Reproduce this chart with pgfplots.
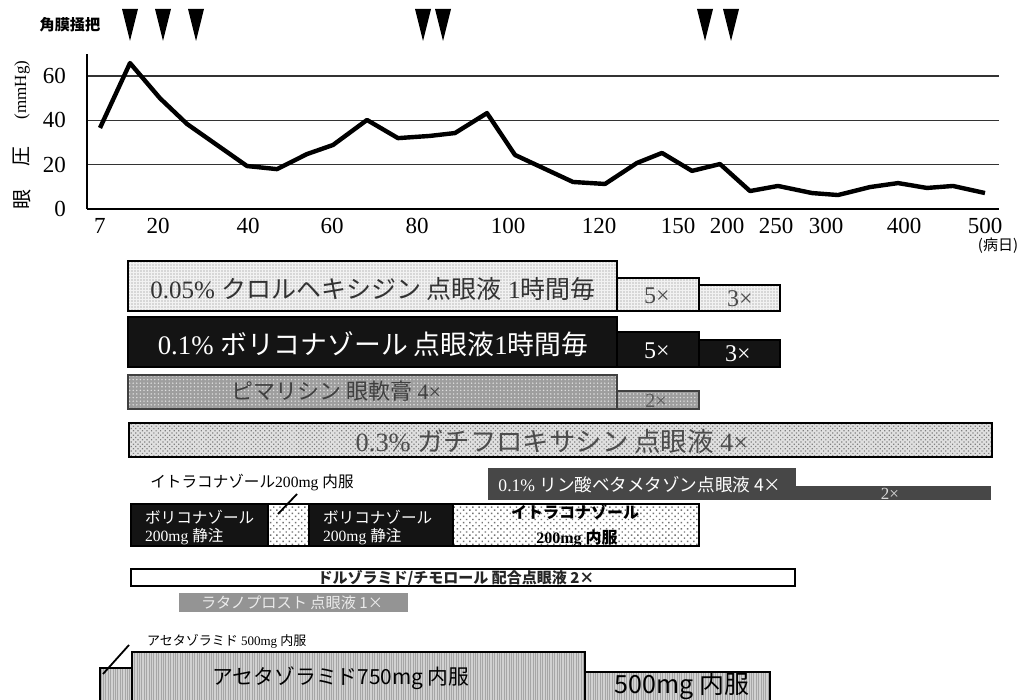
\documentclass[border=0pt]{standalone}
\usepackage{pgfplots}
\pgfplotsset{compat=1.18}
\usepackage{fontspec}
\setmainfont{Liberation Serif}
\newfontfamily\jp{Noto Sans CJK JP}
\usetikzlibrary{patterns,patterns.meta}
\newcommand{\fs}[1]{\fontsize{#1}{#1}\selectfont}
\newcommand{\bx}[5][]{\addplot[#1] coordinates {(#2,#3) (#4,#3) (#4,#5) (#2,#5)} -- cycle;}
\tikzset{
 r1/.style={draw=black, line width=0.9pt, fill=black!5, postaction={pattern={Dots[distance=1.5pt,radius=0.32pt]}, pattern color=black!50}},
 r2/.style={draw=black, line width=0.6pt, fill=black!92},
 r3/.style={draw=black!75, line width=0.7pt, fill=black!38, postaction={pattern={Dots[distance=1.8pt,radius=0.4pt]}, pattern color=black!12}},
 r4/.style={draw=black, line width=1.1pt, fill=black!12, postaction={pattern={Dots[angle=45,distance=1.6pt,radius=0.42pt]}, pattern color=black!50}},
 r5/.style={draw=none, fill=black!72},
 r6/.style={draw=black, line width=0.8pt, fill=white, postaction={pattern={Dots[angle=45,distance=2.2pt,radius=0.5pt]}, pattern color=black!55}},
 r7/.style={draw=black, line width=1.2pt, fill=white},
 r8/.style={draw=none, fill=black!42},
 r9/.style={draw=black, line width=0.8pt, fill=black!18, postaction={pattern={Lines[angle=90,distance=1.2pt,line width=0.3pt]}, pattern color=black!35}},
}
\begin{document}
\begin{tikzpicture}
\path (0,0) rectangle (515pt,350pt);
% ---------- overlay axis in pixel units (bars, markers, labels) ----------
\begin{axis}[at={(0pt,0pt)}, anchor=south west, scale only axis,
  width=515pt, height=350pt, xmin=0, xmax=1030, ymin=0, ymax=700,
  y dir=reverse, hide axis]
% keratectomy markers
\addplot[fill=black, draw=none] coordinates {(122,9) (138,9) (130,41)} -- cycle;
\addplot[fill=black, draw=none] coordinates {(155,9) (171,9) (163,41)} -- cycle;
\addplot[fill=black, draw=none] coordinates {(188,9) (204,9) (196,41)} -- cycle;
\addplot[fill=black, draw=none] coordinates {(415,9) (431,9) (423,41)} -- cycle;
\addplot[fill=black, draw=none] coordinates {(435,9) (451,9) (443,41)} -- cycle;
\addplot[fill=black, draw=none] coordinates {(697,9) (713,9) (705,41)} -- cycle;
\addplot[fill=black, draw=none] coordinates {(723,9) (739,9) (731,41)} -- cycle;
\node[font=\jp\bfseries\fs{7.6}] at (axis cs:70,25) {角膜掻把};
% y label
\node[rotate=90, font=\jp\fs{10}] at (axis cs:22,200) {眼};
\node[rotate=90, font=\jp\fs{10}] at (axis cs:22,157) {圧};
\node[rotate=90, font=\fs{8.5}] at (axis cs:22,90) {(mmHg)};
\node[font=\jp\fs{7.5}] at (axis cs:998,246) {(病日)};
% row 1: chlorhexidine
\bx[r1]{128}{261}{617}{311}
\bx[r1]{617}{278}{699}{311}
\bx[r1]{699}{285}{780}{311}
\node[font=\fs{12.5}, text=black!80] at (axis cs:373,289) {0.05\% {\jp クロルヘキシジン 点眼液} 1{\jp 時間毎}};
\node[font=\fs{12}, text=black!70] at (axis cs:657,296) {5×};
\node[font=\fs{12}, text=black!70] at (axis cs:740,299) {3×};
% row 2: voriconazole eye drops
\bx[r2]{128}{317}{617}{367}
\bx[r2]{617}{332}{699}{367}
\bx[r2]{699}{340}{780}{367}
\node[font=\fs{13.4}, text=white] at (axis cs:373,344) {0.1\% {\jp ボリコナゾール 点眼液}1{\jp 時間毎}};
\node[font=\fs{12}, text=white] at (axis cs:657,351) {5×};
\node[font=\fs{12}, text=white] at (axis cs:738,354) {3×};
% row 3: pimaricin
\bx[r3]{128}{375}{617}{409}
\bx[r3]{617}{391}{699}{409}
\node[font=\fs{11}, text=black!75] at (axis cs:336,391) {{\jp ピマリシン 眼軟膏} 4×};
\node[font=\fs{10}, text=black!65] at (axis cs:656,401) {2×};
% row 4: gatifloxacin
\bx[r4]{129}{423}{992}{457}
\node[font=\fs{13.2}, text=black!70] at (axis cs:552,441) {0.3\% {\jp ガチフロキサシン 点眼液} 4×};
% row 5: betamethasone
\bx[r5]{488}{468}{796}{500}
\bx[r5]{796}{486}{991}{500}
\node[font=\fs{8.8}, text=white] at (axis cs:640,485) {0.1\% {\jp リン酸ベタメタゾン点眼液 4×}};
\node[font=\fs{8.5}, text=black!15] at (axis cs:890,494) {2×};
% row 6: systemic antifungals
\node[font=\fs{7.8}] at (axis cs:252,483) {{\jp イトラコナゾール}200mg {\jp 内服}};
\bx[r2]{131}{504}{268}{546}
\bx[r6]{268}{504}{309}{546}
\bx[r2]{309}{504}{453}{546}
\bx[r6]{453}{504}{699}{546}
\addplot[black, line width=0.9pt] coordinates {(297,494) (278,514)};
\node[font=\fs{7.8}, text=white, anchor=west] at (axis cs:138,517) {\jp ボリコナゾール};
\node[font=\fs{7.8}, text=white, anchor=west] at (axis cs:138,537) {200mg {\jp 静注}};
\node[font=\fs{7.8}, text=white, anchor=west] at (axis cs:316,517) {\jp ボリコナゾール};
\node[font=\fs{7.8}, text=white, anchor=west] at (axis cs:316,537) {200mg {\jp 静注}};
\node[font=\jp\bfseries\fs{8}, text=black] at (axis cs:575,512) {イトラコナゾール};
\node[font=\bfseries\fs{8}, text=black] at (axis cs:577,538) {200mg {\jp 内服}};
% row 7: dorzolamide/timolol
\bx[r7]{131}{569}{795}{586}
\node[font=\jp\bfseries\fs{7.5}, text=black!85] at (axis cs:456,578) {ドルゾラミド/チモロール 配合点眼液 2×};
% row 8: latanoprost
\bx[r8]{179}{593}{408}{612}
\node[font=\jp\fs{7.6}, text=black!8] at (axis cs:292,603) {ラタノプロスト 点眼液 1×};
% row 9: acetazolamide
\node[font=\fs{6.5}, anchor=west] at (axis cs:140,641) {{\jp アセタゾラミド} 500mg {\jp 内服}};
\bx[r9]{100}{668}{132}{705}
\bx[r9]{132}{652}{585}{705}
\bx[r9]{585}{672}{770}{705}
\addplot[black, line width=0.9pt] coordinates {(103,674) (129,645)};
\node[font=\jp\fs{10.4}] at (axis cs:341,678) {アセタゾラミド750mg 内服};
\node[font=\jp\fs{12.5}] at (axis cs:682,686) {500mg 内服};
\end{axis}
% ---------- intraocular pressure chart ----------
\begin{axis}[at={(43.5pt,245.5pt)}, anchor=south west, scale only axis,
  width=456pt, height=77.5pt, xmin=87, xmax=999, ymin=0, ymax=70,
  axis x line*=bottom, axis y line*=left,
  axis line style={black, line width=0.8pt, -},
  ymajorgrids, grid style={black!80, line width=0.7pt},
  ytick={0,20,40,60},
  xtick={100,158,248,332,417,508,599,678,727,776,826,904,985},
  xticklabels={7,20,40,60,80,100,120,150,200,250,300,400,500},
  major tick length=0pt, tick style={draw=none},
  /pgf/number format/assume math mode=true,
  ticklabel style={font=\fs{11.5}},
  yticklabel style={xshift=-7pt},
  xticklabel style={yshift=-1pt}]
\addplot[black, line width=2.2pt, line join=round] coordinates {
(100,36.6) (130,65.9) (160,50) (187,38.4) (247,19.4) (277,18) (307,24.8)
(333,28.9) (367,40.2) (398,32) (430,33) (455,34.3) (487,43.3) (515,24.4)
(573,12.2) (605,11.3) (637,20.8) (662,25.3) (692,17.2) (720,20.3) (750,8.1)
(778,10.4) (812,7.2) (838,6.3) (870,9.9) (898,11.7) (927,9.5) (953,10.4) (985,7.2)};
\end{axis}
\end{tikzpicture}
\end{document}
